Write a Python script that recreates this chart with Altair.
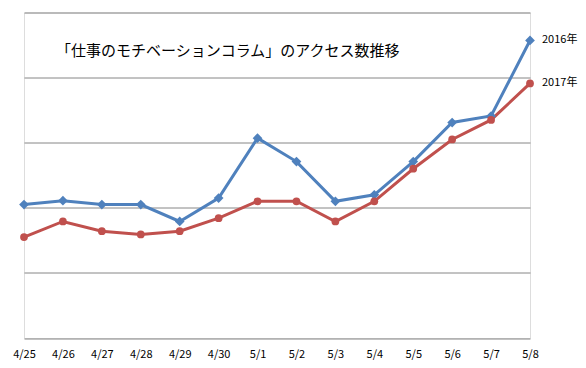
import altair as alt
import pandas as pd

dates = ["4/25", "4/26", "4/27", "4/28", "4/29", "4/30", "5/1", "5/2",
         "5/3", "5/4", "5/5", "5/6", "5/7", "5/8"]
s2016 = [205, 211, 205, 205, 179, 215, 307, 271, 210, 220, 271, 331, 341, 457]
s2017 = [155, 179, 164, 159, 164, 184, 210, 210, 179, 210, 260, 305, 335, 391]
series_names = ["2016年", "2017年"]
colors = ["#4F81BD", "#C0504D"]
title_text = "「仕事のモチベーションコラム」のアクセス数推移"

rows = []
for name, vals in zip(series_names, [s2016, s2017]):
    for d, v in zip(dates, vals):
        rows.append({"date": d, "value": v, "series": name})
df = pd.DataFrame(rows)
last = df[df["date"] == dates[-1]]

FONT = "Noto Sans CJK JP"

x = alt.X("date:N", sort=dates, title=None,
          scale=alt.Scale(type="point", padding=0),
          axis=alt.Axis(labelAngle=0, domain=False, ticks=False, grid=False,
                        labelPadding=10, labelFont=FONT, labelFontSize=11,
                        labelColor="#000000"))
y = alt.Y("value:Q", title=None,
          scale=alt.Scale(domain=[0, 500], nice=False),
          axis=alt.Axis(values=[0, 100, 200, 300, 400, 500], labels=False,
                        ticks=False, domain=False, grid=True,
                        gridColor="#868686", gridWidth=1))
color = alt.Color("series:N", scale=alt.Scale(domain=series_names, range=colors),
                  legend=None)

base = alt.Chart(df)

lines = base.mark_line(strokeWidth=3).encode(x=x, y=y, color=color,
                                              detail="series:N")
pts16 = alt.Chart(df[df["series"] == "2016年"]).mark_point(
    shape="diamond", filled=True, size=95, opacity=1).encode(x=x, y=y, color=color)
pts17 = alt.Chart(df[df["series"] == "2017年"]).mark_point(
    shape="circle", filled=True, size=60, opacity=1).encode(x=x, y=y, color=color)

labels = alt.Chart(last).mark_text(align="left", baseline="middle", dx=12,
                                   font=FONT, fontSize=11, color="#000000").encode(
    x=x, y=y, text="series:N")

title = alt.Chart(pd.DataFrame({"t": [title_text]})).mark_text(
    align="left", baseline="middle", font=FONT, fontSize=15, color="#000000").encode(
    x=alt.value(32), y=alt.value(38.5), text="t:N")

chart = alt.layer(lines, pts16, pts17, labels, title).properties(
    width=506, height=325.5,
    autosize=alt.AutoSizeParams(type="none"),
    padding={"left": 16, "top": 4.5, "right": 48, "bottom": 25},
).configure_view(stroke=None).configure(background="#ffffff")

chart.save("out.html", embed_options={"renderer": "svg", "actions": False})
